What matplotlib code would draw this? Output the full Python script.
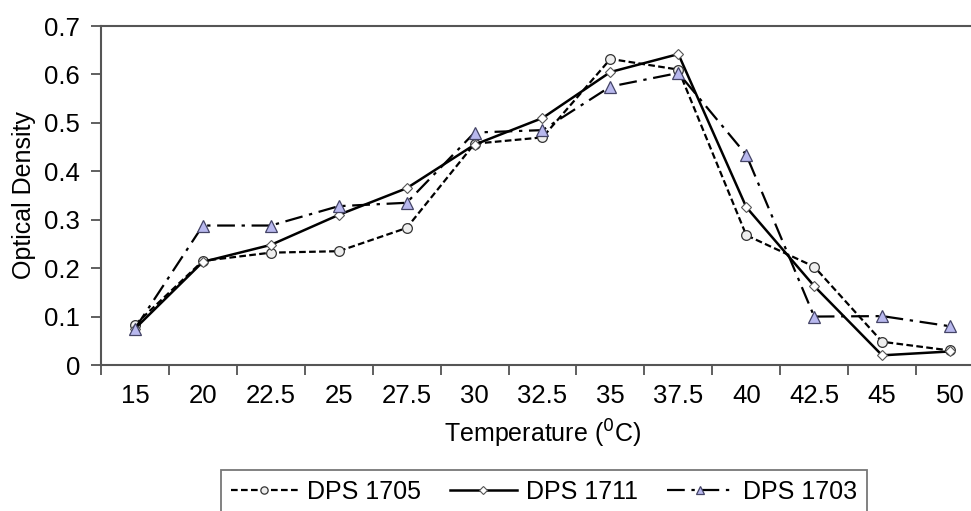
import numpy as np
import matplotlib
matplotlib.use("Agg")
import matplotlib.pyplot as plt
from matplotlib.ticker import FixedLocator

plt.rcParams['font.family'] = ['Liberation Sans', 'DejaVu Sans']

# temperature categories and optical density readings
temps = ['15', '20', '22.5', '25', '27.5', '30', '32.5', '35', '37.5', '40', '42.5', '45', '50']
dps1705 = [0.083, 0.215, 0.232, 0.235, 0.283, 0.457, 0.470, 0.632, 0.610, 0.268, 0.203, 0.048, 0.030]
dps1711 = [0.075, 0.213, 0.248, 0.310, 0.365, 0.455, 0.510, 0.605, 0.642, 0.326, 0.163, 0.020, 0.028]
dps1703 = [0.075, 0.288, 0.288, 0.328, 0.335, 0.480, 0.485, 0.575, 0.603, 0.434, 0.100, 0.101, 0.080]

x = np.arange(len(temps))

fig = plt.figure(figsize=(9.71, 5.11), dpi=100)
ax = fig.add_axes([0.104, 0.2857, 0.9094, 0.6634])

ax.plot(x, dps1705, color='black', lw=1.6, ls=(0, (3, 1.5)),
        marker='o', ms=7, mfc='#eeeeee', mec='#333333', mew=0.9, label='DPS 1705')
ax.plot(x, dps1711, color='black', lw=1.8, ls='-',
        marker='D', ms=5.5, mfc='white', mec='#555555', mew=0.8, label='DPS 1711')
ax.plot(x, dps1703, color='black', lw=1.6, ls=(0, (8, 3, 1.5, 3)),
        marker='^', ms=8, mfc='#b8b8ee', mec='#444466', mew=0.9, label='DPS 1703')

ax.set_xlim(-0.5, len(temps) - 0.5)
ax.set_ylim(0, 0.7)
ax.set_yticks(np.arange(0, 0.71, 0.1))
ax.set_yticklabels(['0', '0.1', '0.2', '0.3', '0.4', '0.5', '0.6', '0.7'])
ax.set_xticks(x)
ax.set_xticklabels(temps)
ax.xaxis.set_minor_locator(FixedLocator(np.arange(-0.5, len(temps), 1.0)))
ax.tick_params(axis='x', which='major', length=0, pad=14, labelsize=18.5)
ax.tick_params(axis='x', which='minor', length=7, width=1.2, direction='out', color='#444444')
ax.tick_params(axis='y', length=7, width=1.2, direction='out', color='#444444', pad=8, labelsize=18.5)

for s in ax.spines.values():
    s.set_color('#555555')
    s.set_linewidth(1.5)

ax.set_xlabel('Temperature ($^{0}$C)', fontsize=18, labelpad=7)
ax.set_ylabel('Optical Density', fontsize=18, labelpad=6)

leg = fig.legend(loc='upper center', bbox_to_anchor=(0.56, 0.080), ncol=3,
                 fontsize=18, frameon=True, fancybox=False, edgecolor='#555555',
                 handlelength=2.7, columnspacing=1.15, handletextpad=0.35,
                 borderpad=0.4, borderaxespad=0, markerscale=0.75)
leg.get_frame().set_linewidth(1.3)

fig.savefig('out.png', dpi=100)
